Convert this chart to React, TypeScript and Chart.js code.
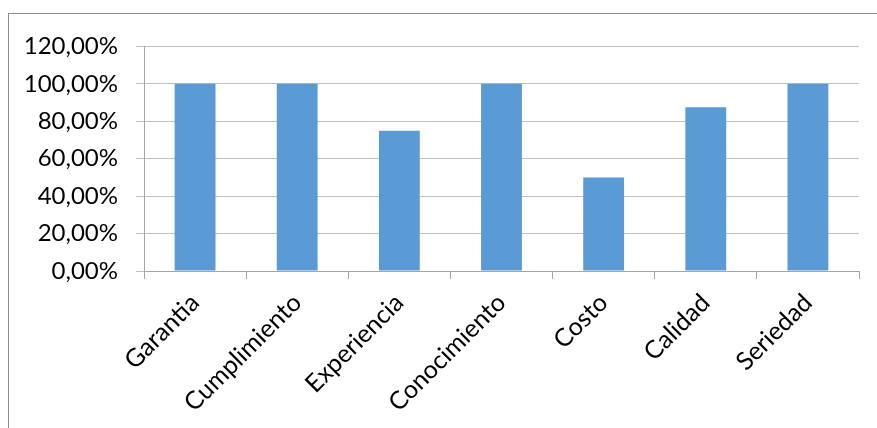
import React, { useEffect, useRef } from "react";
import { Chart, registerables } from "chart.js";

Chart.register(...registerables);

const categories = ["Garantia", "Cumplimiento", "Experiencia", "Conocimiento", "Costo", "Calidad", "Seriedad"];
const values = [100, 100, 75, 100, 50, 87.5, 100];
const yMin = 0;
const yMax = 120;
const yStep = 20;

export default function App() {
  const ref = useRef<HTMLCanvasElement>(null);
  useEffect(() => {
    if (!ref.current) return;
    const chart = new Chart(ref.current, {
      type: "bar",
      data: {
        labels: categories,
        datasets: [
          {
            data: values,
            backgroundColor: "#5b9bd5",
            borderWidth: 0,
            barPercentage: 0.4,
            categoryPercentage: 1,
          },
        ],
      },
      options: {
        responsive: false,
        animation: false,
        layout: { padding: { top: 29, right: 19, bottom: 0, left: 0 } },
        plugins: { legend: { display: false }, tooltip: { enabled: false } },
        scales: {
          x: {
            grid: { drawOnChartArea: false, drawTicks: true, tickLength: 8, color: "#a6a6a6", offset: true },
            border: { color: "#a6a6a6" },
            ticks: { color: "#000", font: { family: "Lato", size: 25 }, minRotation: 45, maxRotation: 45, padding: 9 },
            afterFit: (s: any) => { s.height = 157; },
          },
          y: {
            min: yMin,
            max: yMax,
            grid: { color: "#bfbfbf", tickLength: 8 },
            border: { color: "#a6a6a6" },
            ticks: {
              stepSize: yStep,
              color: "#000",
              font: { family: "Lato", size: 24 },
              padding: 18,
              callback: (v: any) => Number(v).toFixed(2).replace(".", ",") + "%",
            },
            afterFit: (s: any) => { s.width = 135; },
          },
        },
      },
    });
    return () => chart.destroy();
  }, []);
  return (
    <div
      style={{
        position: "absolute",
        left: 8,
        top: 13,
        width: 880,
        height: 420,
        borderLeft: "1px solid #8c8c8c",
        borderTop: "1px solid #8c8c8c",
        overflow: "hidden",
      }}
    >
      <canvas ref={ref} width={869} height={414} style={{ display: "block" }} />
    </div>
  );
}
